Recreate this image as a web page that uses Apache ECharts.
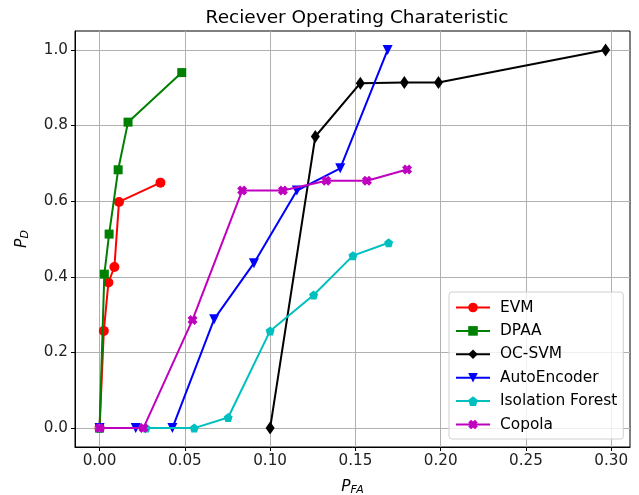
<!DOCTYPE html>
<html><head><meta charset="utf-8">
<script src="https://cdn.jsdelivr.net/npm/echarts@6/dist/echarts.min.js"></script>
<style>html,body{margin:0;padding:0;background:#fff}#c{width:639px;height:495px}</style>
</head><body><div id="c"></div>
<script>
const seriesNames = ['EVM','DPAA','OC-SVM','AutoEncoder','Isolation Forest','Copola'];
const evm = [[0,0],[0.0025,0.257],[0.0052,0.385],[0.0087,0.426],[0.0114,0.598],[0.0357,0.649]];
const dpaa = [[0,0],[0.0028,0.407],[0.0056,0.513],[0.0109,0.683],[0.0167,0.809],[0.0482,0.94]];
const ocsvm = [[0.1,0],[0.1265,0.771],[0.1529,0.912],[0.1787,0.914],[0.1987,0.914],[0.2967,1.0]];
const autoEncoder = [[0,0],[0.0212,0],[0.0427,0],[0.0672,0.288],[0.0905,0.436],[0.1157,0.628],[0.1411,0.687],[0.1689,1.0]];
const isoForest = [[0,0],[0.0273,0],[0.0555,0],[0.0754,0.028],[0.1,0.257],[0.1255,0.352],[0.1486,0.456],[0.1695,0.49]];
const copola = [[0,0],[0.0257,0],[0.0545,0.286],[0.0836,0.628],[0.1075,0.628],[0.1329,0.654],[0.1568,0.654],[0.1803,0.684]];
const xTicks = [0,0.05,0.1,0.15,0.2,0.25,0.3];
const yTicks = [0,0.2,0.4,0.6,0.8,1.0];

const seriesData = [evm, dpaa, ocsvm, autoEncoder, isoForest, copola];
const colors = ['#ff0000','#008000','#000000','#0000ff','#00bfbf','#bf00bf'];
const symbols = [
  'circle','rect','diamond','triangle',
  'path://M0,-10 L9.51,-3.09 L5.88,8.09 L-5.88,8.09 L-9.51,-3.09 Z',
  'path://M-5,-2 L-2,-5 L0,-3 L2,-5 L5,-2 L3,0 L5,2 L2,5 L0,3 L-2,5 L-5,2 L-3,0 Z'
];
const sizes = [10,9,[9,13],10,9,10];
const rotates = [0,0,0,180,0,0];
const font = '"DejaVu Sans"';

const chart = echarts.init(document.getElementById('c'), null, {renderer:'canvas'});
chart.setOption({
  animation:false,
  backgroundColor:'#fff',
  textStyle:{fontFamily:font},
  title:{text:'Reciever Operating Charateristic', left:352, top:4, textAlign:'center',
    textStyle:{fontFamily:font, fontSize:18.5, fontWeight:'normal', color:'#000'}},
  grid:{left:75, right:9, top:31, bottom:48, show:true, borderColor:'#000', borderWidth:1,
    containLabel:false, outerBoundsMode:'none'},
  legend:{
    orient:'vertical', left:449, top:292,
    padding:[8,6,7,6], itemGap:8.4, itemWidth:34, itemHeight:12,
    borderColor:'#d0d0d0', borderWidth:1, borderRadius:3, backgroundColor:'rgba(255,255,255,0.8)',
    textStyle:{fontFamily:font, fontSize:15.4, color:'#000', padding:[0,0,0,5]},
    data: seriesNames
  },
  xAxis:{type:'value', min:-0.0144, max:0.311,
    name:'{a|P}{b|FA}', nameLocation:'middle', nameGap:30,
    nameTextStyle:{rich:{a:{fontFamily:font, fontStyle:'italic', fontSize:15.4, color:'#000'},
      b:{fontFamily:font, fontStyle:'italic', fontSize:11, color:'#000', padding:[8,0,0,0]}}},
    axisLine:{show:true, onZero:false, lineStyle:{color:'#000'}},
    axisTick:{show:true, customValues:xTicks, length:4, lineStyle:{color:'#000'}},
    axisLabel:{customValues:xTicks, color:'#222', fontSize:15.2, margin:7, fontFamily:font,
      formatter:v=>v.toFixed(2)},
    splitLine:{show:true, customValues:xTicks, lineStyle:{color:'#b0b0b0', width:1}}
  },
  yAxis:{type:'value', min:-0.05, max:1.05,
    name:'{a|P}{b|D}', nameLocation:'middle', nameGap:44, nameRotate:90,
    nameTextStyle:{rich:{a:{fontFamily:font, fontStyle:'italic', fontSize:15.4, color:'#000'},
      b:{fontFamily:font, fontStyle:'italic', fontSize:11, color:'#000', padding:[8,0,0,0]}}},
    axisLine:{show:true, onZero:false, lineStyle:{color:'#000'}},
    axisTick:{show:true, customValues:yTicks, length:4, lineStyle:{color:'#000'}},
    axisLabel:{customValues:yTicks, color:'#222', fontSize:15.2, margin:7, fontFamily:font,
      formatter:v=>v.toFixed(1)},
    splitLine:{show:true, customValues:yTicks, lineStyle:{color:'#b0b0b0', width:1}}
  },
  series: seriesNames.map((n,i)=>({
    name:n, type:'line', data:seriesData[i],
    symbol:symbols[i], symbolSize:sizes[i], symbolRotate:rotates[i], showAllSymbol:true,
    lineStyle:{color:colors[i], width:2},
    itemStyle:{color:colors[i], borderWidth:0},
    color:colors[i], z:2+i
  }))
});
</script></body></html>
